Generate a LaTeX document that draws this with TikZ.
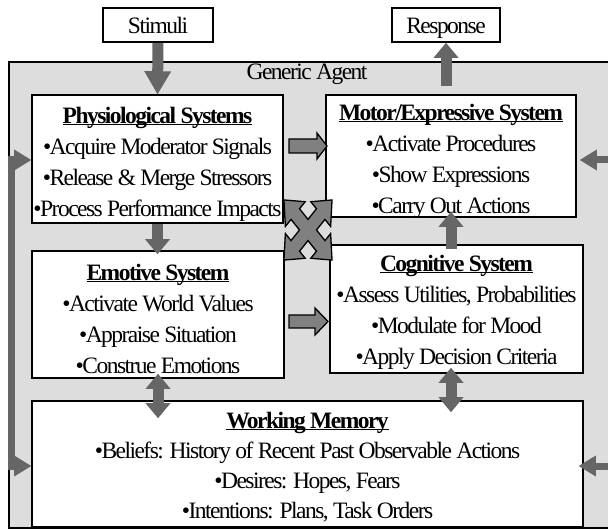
\documentclass[tikz,border=0pt]{standalone}
\usepackage{fontspec}
\setmainfont{Liberation Serif}[LetterSpace=-6.5]
\usetikzlibrary{arrows.meta,calc}
\definecolor{agentgray}{HTML}{DDDDDD}
\definecolor{arrowgray}{HTML}{666666}
\definecolor{blockgray}{HTML}{808080}
\newcommand\ttl[1]{\setbox0\hbox{\bfseries #1}\rlap{\rule[-2pt]{\wd0}{1.3pt}}\box0}
\begin{document}
\begin{tikzpicture}[x=1pt,y=-1pt,
  box/.style={draw=black, line width=1.6pt, fill=white, inner sep=0pt},
  txt/.style={align=center, inner sep=0pt, font=\fontsize{23.5}{31}\selectfont},
  darrow/.style={draw=arrowgray, line width=11pt},
  fb/.style={draw=arrowgray, line width=7pt, line join=miter},
  blk/.style={draw=black, line width=1.3pt, fill=blockgray, line join=miter},
  bigtip/.tip={Triangle[width=25pt,length=15pt,line width=0pt]},
  fbtip/.tip={Triangle[width=21pt,length=17pt,line width=0pt]}
]
\useasboundingbox (0,0) rectangle (608,529);
\clip (0,0) rectangle (608,529);
% generic agent frame
\node[draw=black, line width=1.6pt, fill=agentgray, minimum width=640, minimum height=466, inner sep=0pt, anchor=north west] (agent) at (8,61) {};
\node[txt, anchor=base] (agentT) at (307,80) {Generic Agent};
% outside boxes
\node[box, txt, minimum width=110, minimum height=34, text height=18pt, text depth=0pt] (stim) at (158,25) {Stimuli};
\node[box, txt, minimum width=108, minimum height=34, text height=18pt, text depth=0pt] (resp) at (446,25) {Response};
% inner boxes
\node[box, minimum width=251, minimum height=128] (phys) at (157.5,159) {};
\node[box, minimum width=250, minimum height=122] (mot) at (451,156) {};
\node[box, minimum width=252, minimum height=127] (emo) at (158,314.5) {};
\node[box, minimum width=253, minimum height=128] (cog) at (456.5,309) {};
\node[box, minimum width=551, minimum height=126] (wm) at (307.5,464) {};
% texts
\node[txt] (physT) at (157.5,164) {\ttl{Physiological Systems}\\•Acquire Moderator Signals\\•Release \& Merge Stressors\\•Process Performance Impacts};
\node[txt] (motT) at (451,161) {\ttl{Motor/Expressive System}\\•Activate Procedures\\•Show Expressions\\•Carry Out Actions};
\node[txt] (emoT) at (158,318.5) {\ttl{Emotive System}\\•Activate World Values\\•Appraise Situation\\•Construe Emotions};
\node[txt] (cogT) at (456.5,312) {\ttl{Cognitive System}\\•Assess Utilities, Probabilities\\•Modulate for Mood\\•Apply Decision Criteria};
\node[txt, font=\fontsize{23.5}{30}\selectfont] (wmT) at (307.5,467) {\ttl{Working Memory}\\•Beliefs: History of Recent Past Observable Actions\\•Desires: Hopes, Fears\\•Intentions: Plans, Task Orders};
% solid arrows
\draw[darrow, -{Triangle[width=27pt,length=23pt,line width=0pt]}] (stim.south) -- (phys.north);
\draw[darrow, -bigtip] ($(resp.south |- mot.north)+(0,-8)$) -- (resp.south);
\draw[darrow, -bigtip] (phys.south) -- ($(phys.south |- emo.north)+(0,4)$);
\draw[darrow, bigtip-bigtip] ($(emo.south)+(0,-5)$) -- ($(emo.south |- wm.north)+(0,18)$);
\draw[darrow, -bigtip] ($(cog.north -| mot.south)+(0,5)$) -- ($(mot.south)+(0,-6)$);
\draw[darrow, bigtip-bigtip] ($(cog.south -| mot.south)+(0,-6)$) -- ($(wm.north -| mot.south)+(0,12)$);
% feedback arrows
\coordinate (lb) at (11.5,300);
\draw[fb, fbtip-fbtip] ($(phys.west)+(0,1)$) -| (lb) |- ($(wm.west)+(0,2)$);
\coordinate (rm) at (615,160);
\coordinate (rw) at (615,466);
\draw[fb, -fbtip] (rm) -- ($(mot.east)+(3,4)$);
\draw[fb, -fbtip] (rw) -- ($(wm.east)+(-5,2)$);
% block arrows
\draw[blk] (289,139) -- (317,139) -- (317,133) -- (327,146) -- (317,159) -- (317,153) -- (289,153) -- cycle;
\draw[blk] (289,315) -- (315,315) -- (315,308) -- (328,321.5) -- (315,335) -- (315,328) -- (289,328) -- cycle;
% four-way cross arrow
\begin{scope}[shift={(308,230)}, yscale=1.25, rotate=45]
\draw[blk] (6,6) -- (18,6) -- (18,14) -- (34,0) -- (18,-14) -- (18,-6) -- (6,-6) -- (6,-18) -- (14,-18) -- (0,-34) -- (-14,-18) -- (-6,-18) -- (-6,-6) -- (-18,-6) -- (-18,-14) -- (-34,0) -- (-18,14) -- (-18,6) -- (-6,6) -- (-6,18) -- (-14,18) -- (0,34) -- (14,18) -- (6,18) -- cycle;
\end{scope}
\end{tikzpicture}
\end{document}
